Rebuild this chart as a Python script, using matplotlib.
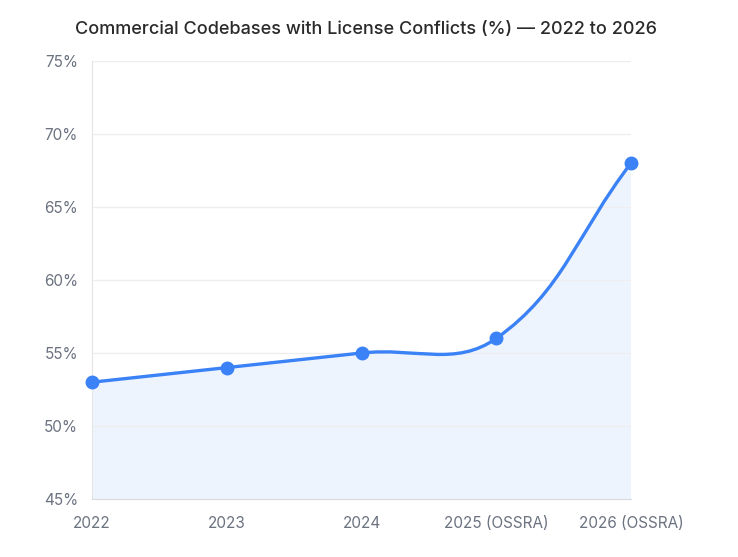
import numpy as np
import matplotlib
matplotlib.use("Agg")
import matplotlib.pyplot as plt
from matplotlib.path import Path
from matplotlib.patches import PathPatch
from matplotlib.ticker import FuncFormatter

plt.rcParams["font.family"] = ["Inter", "DejaVu Sans"]

# data
years = ["2022", "2023", "2024", "2025 (OSSRA)", "2026 (OSSRA)"]
conflict_pct = [53, 54, 55, 56, 68]

line_color = "#3b82f6"
fill_color = "#eef4fd"
tension = 0.4

fig = plt.figure(figsize=(7.38, 5.57), dpi=100)
ax = fig.add_axes([92 / 738, 58 / 557, (631 - 92) / 738, (499 - 61) / 557])
x = np.arange(len(years))
ax.set_xlim(x[0], x[-1])
ax.set_ylim(45, 75)

# smooth curve like a cubic spline with tension (computed in pixel space)
pts = ax.transData.transform(np.column_stack([x, conflict_pct]))
n = len(pts)
ctrl_prev = np.zeros_like(pts)
ctrl_next = np.zeros_like(pts)
for i in range(n):
    prev = pts[i - 1] if i > 0 else pts[i]
    cur = pts[i]
    nxt = pts[i + 1] if i < n - 1 else pts[i]
    d01 = np.hypot(*(cur - prev))
    d12 = np.hypot(*(nxt - cur))
    tot = d01 + d12
    s01 = d01 / tot if tot else 0
    s12 = d12 / tot if tot else 0
    ctrl_prev[i] = cur - tension * s01 * (nxt - prev)
    ctrl_next[i] = cur + tension * s12 * (nxt - prev)

verts = [pts[0]]
codes = [Path.MOVETO]
for i in range(n - 1):
    verts += [ctrl_next[i], ctrl_prev[i + 1], pts[i + 1]]
    codes += [Path.CURVE4] * 3
inv = ax.transData.inverted()
verts_data = inv.transform(np.array(verts))

# filled area under curve
base = 45
fill_verts = list(verts_data) + [[x[-1], base], [x[0], base], verts_data[0]]
fill_codes = codes + [Path.LINETO, Path.LINETO, Path.CLOSEPOLY]
ax.add_patch(PathPatch(Path(fill_verts, fill_codes), facecolor=fill_color,
                       edgecolor="none", zorder=1))
ax.add_patch(PathPatch(Path(verts_data, codes), facecolor="none",
                       edgecolor=line_color, lw=2.4, capstyle="round", zorder=3))
ax.plot(x, conflict_pct, "o", color=line_color, markersize=9, zorder=4, clip_on=False)

ax.set_xticks(x)
ax.set_xticklabels(years)
ax.set_yticks(np.arange(45, 76, 5))
ax.yaxis.set_major_formatter(FuncFormatter(lambda v, p: f"{v:.0f}%"))
ax.tick_params(axis="both", length=0, labelsize=11, labelcolor="#6b7280")
ax.tick_params(axis="x", pad=12)
ax.tick_params(axis="y", pad=10)
ax.grid(axis="y", color="#eeeeee", lw=1, zorder=0)
for s in ["top", "right"]:
    ax.spines[s].set_visible(False)
ax.spines["left"].set_color("#e5e5e5")
ax.spines["bottom"].set_color("#d8dadf")

fig.text(366 / 738, 1 - 30 / 557, "Commercial Codebases with License Conflicts (%) — 2022 to 2026",
         ha="center", va="center", fontsize=13, fontweight="medium", color="#2a2a2a")

fig.savefig("out.png", dpi=100)
